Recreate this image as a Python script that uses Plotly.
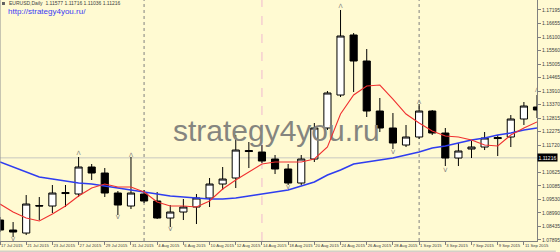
import plotly.graph_objects as go

# ---------------- data ----------------
dates = ["17 Jul 2015", "20 Jul 2015", "21 Jul 2015", "22 Jul 2015", "23 Jul 2015", "24 Jul 2015",
         "27 Jul 2015", "28 Jul 2015", "29 Jul 2015", "30 Jul 2015", "31 Jul 2015",
         "3 Aug 2015", "4 Aug 2015", "5 Aug 2015", "6 Aug 2015", "7 Aug 2015",
         "10 Aug 2015", "11 Aug 2015", "12 Aug 2015", "13 Aug 2015", "14 Aug 2015",
         "17 Aug 2015", "18 Aug 2015", "19 Aug 2015", "20 Aug 2015", "21 Aug 2015",
         "24 Aug 2015", "25 Aug 2015", "26 Aug 2015", "27 Aug 2015", "28 Aug 2015", "31 Aug 2015",
         "1 Sep 2015", "2 Sep 2015", "3 Sep 2015", "4 Sep 2015",
         "7 Sep 2015", "8 Sep 2015", "9 Sep 2015", "10 Sep 2015", "11 Sep 2015", "14 Sep 2015"]

opens = [1.08702, 1.08298, 1.08176, 1.09289, 1.09268, 1.09814, 1.09754, 1.10846, 1.10603, 1.09794,
         1.09268, 1.09754, 1.09471, 1.08783, 1.09026, 1.09228, 1.09592, 1.10158, 1.10401, 1.11513,
         1.11452, 1.11169, 1.10765, 1.10198, 1.11169, 1.12423, 1.13757, 1.16184, 1.15132, 1.13110,
         1.12423, 1.11735, 1.12059, 1.13110, 1.12220, 1.11209, 1.11573, 1.11654, 1.12038, 1.12059,
         1.12787, 1.13272]
highs = [1.08824, 1.08621, 1.09713, 1.09632, 1.10118, 1.10118, 1.11250, 1.10967, 1.10805, 1.09875,
         1.11250, 1.09915, 1.09835, 1.09309, 1.09551, 1.09754, 1.10401, 1.10846, 1.12140, 1.11857,
         1.11735, 1.11331, 1.10967, 1.11331, 1.12625, 1.13919, 1.17195, 1.16264, 1.15617, 1.13636,
         1.13029, 1.12544, 1.13393, 1.13151, 1.12423, 1.11816, 1.11897, 1.12261, 1.12140, 1.12948,
         1.13474, 1.13757]
lows = [1.08217, 1.08015, 1.08096, 1.08702, 1.08985, 1.09228, 1.09632, 1.10320, 1.09632, 1.08904,
        1.09147, 1.09390, 1.08743, 1.08419, 1.08702, 1.08540, 1.09228, 1.09915, 1.09996, 1.10805,
        1.11007, 1.10562, 1.10118, 1.10118, 1.11048, 1.12342, 1.13676, 1.13879, 1.12868, 1.12261,
        1.11573, 1.11654, 1.11977, 1.12140, 1.10886, 1.10886, 1.11209, 1.11533, 1.11290, 1.11654,
        1.12544, 1.12827]
closes = [1.08298, 1.08217, 1.09349, 1.09268, 1.09794, 1.09774, 1.10846, 1.10603, 1.09794, 1.09309,
          1.09794, 1.09471, 1.08783, 1.09026, 1.09228, 1.09592, 1.10158, 1.10360, 1.11533, 1.11472,
          1.11088, 1.10765, 1.10198, 1.11169, 1.12423, 1.13838, 1.16143, 1.15132, 1.13110, 1.12423,
          1.11816, 1.12059, 1.13110, 1.12220, 1.11209, 1.11493, 1.11654, 1.12018, 1.11998, 1.12787,
          1.13312, 1.13151]

ma_fast = [1.09349, 1.09026, 1.08783, 1.08662, 1.08945, 1.09268, 1.09673, 1.09996, 1.10158, 1.10037,
           1.10037, 1.09835, 1.09430, 1.09268, 1.09268, 1.09228, 1.09471, 1.09956, 1.10320, 1.10643,
           1.10967, 1.11048, 1.11048, 1.11048, 1.11169, 1.11654, 1.12989, 1.13757, 1.14121, 1.14162,
           1.13595, 1.12989, 1.12625, 1.12301, 1.12099, 1.12059, 1.11937, 1.11735, 1.11695, 1.12140,
           1.12423, 1.12665]
ma_slow = [1.11048, 1.10846, 1.10643, 1.10441, 1.10360, 1.10279, 1.10198, 1.10158, 1.10077, 1.09996,
           1.09915, 1.09835, 1.09754, 1.09673, 1.09632, 1.09592, 1.09551, 1.09551, 1.09592, 1.09673,
           1.09754, 1.09835, 1.09915, 1.10077, 1.10239, 1.10522, 1.10724, 1.10967, 1.11048, 1.11129,
           1.11209, 1.11331, 1.11452, 1.11614, 1.11695, 1.11816, 1.11937, 1.12018, 1.12140, 1.12220,
           1.12342, 1.12423]

fractal_up_bars = [6, 10, 26, 32, 41]
fractal_up_vals = [1.11412, 1.11331, 1.17356, 1.13474, 1.13959]
fractal_dn_bars = [1, 9, 13, 22, 30, 34]
fractal_dn_vals = [1.07934, 1.08824, 1.08338, 1.10037, 1.11452, 1.10724]

price_ticks = [1.17195, 1.16655, 1.16100, 1.15560, 1.15005, 1.14465, 1.13910, 1.13370, 1.12815,
               1.12275, 1.11720, 1.10625, 1.10085, 1.09530, 1.08990, 1.08435, 1.07895]
price_tick_text = ["1.17195", "1.16655", "1.16100", "1.15560", "1.15005", "1.14465", "1.13910",
                   "1.13370", "1.12815", "1.12275", "1.11720", "1.10625", "1.10085", "1.09530",
                   "1.08990", "1.08435", "1.07895"]
bid_price = 1.11216
bid_text = "1.11216"
header_text = "EURUSD,Daily  1.11577 1.11716 1.11036 1.11216"
site_text = "http://strategy4you.ru/"
watermark = "strategy4you.ru"
separator_bars = [11, 32]      # first bars of August and September
marker_bar = 20                # pink dashed line (14 Aug)

# ---------------- figure ----------------
bars = list(range(len(dates)))
W, H = 560, 252
ML, MR, MT, MB = 0, 19, 0, 11
PW, PH = W - ML - MR, H - MT - MB
BG = "#fffad2"
FONT = "Liberation Sans"

fig = go.Figure()

# watermark (behind the candles)
fig.add_trace(go.Scatter(x=[21.1], y=[1.1221], mode="text", text=[watermark],
                         textfont=dict(family=FONT, size=30, color="#85857f"),
                         hoverinfo="skip", showlegend=False))

fig.add_trace(go.Candlestick(
    x=bars, open=opens, high=highs, low=lows, close=closes,
    increasing=dict(line=dict(color="#000000", width=1), fillcolor="#ffffff"),
    decreasing=dict(line=dict(color="#000000", width=1), fillcolor="#000000"),
    whiskerwidth=0, showlegend=False, hoverinfo="skip"))

fig.add_trace(go.Scatter(x=bars, y=ma_slow, mode="lines",
                         line=dict(color="#2f3df0", width=1.6), showlegend=False, hoverinfo="skip"))
fig.add_trace(go.Scatter(x=bars, y=ma_fast, mode="lines",
                         line=dict(color="#f03030", width=1.1), showlegend=False, hoverinfo="skip"))

fig.add_trace(go.Scatter(x=fractal_up_bars, y=fractal_up_vals, mode="text", text=["Λ"] * len(fractal_up_bars),
                         textfont=dict(family="DejaVu Sans", size=6, color="#808080"),
                         showlegend=False, hoverinfo="skip"))
fig.add_trace(go.Scatter(x=fractal_dn_bars, y=fractal_dn_vals, mode="text", text=["V"] * len(fractal_dn_bars),
                         textfont=dict(family="DejaVu Sans", size=6, color="#808080"),
                         showlegend=False, hoverinfo="skip"))

shapes = []
for b in separator_bars:
    shapes.append(dict(type="line", xref="x", yref="paper", x0=b, x1=b, y0=0, y1=1,
                       line=dict(color="#808080", width=1, dash="dot"), layer="below"))
shapes.append(dict(type="line", xref="x", yref="paper", x0=marker_bar, x1=marker_bar, y0=0, y1=1,
                   line=dict(color="#f0b8d0", width=1, dash="dash"), layer="below"))
shapes.append(dict(type="line", xref="paper", yref="y", x0=0, x1=1, y0=bid_price, y1=bid_price,
                   line=dict(color="#c8c8c0", width=1), layer="below"))
# left border and header square
shapes.append(dict(type="line", xref="paper", yref="paper", x0=0, x1=0, y0=0, y1=1,
                   line=dict(color="#909090", width=1)))
shapes.append(dict(type="rect", xref="paper", yref="paper", x0=2 / PW, x1=5 / PW,
                   y0=1 - 5 / PH, y1=1 - 2 / PH, fillcolor="#606060", line=dict(width=0)))
# bottom scrollbar strip
shapes.append(dict(type="rect", xref="paper", yref="paper", x0=0, x1=W / PW,
                   y0=-11 / PH, y1=-9.5 / PH, fillcolor="#d4d0c8", line=dict(width=0)))

annotations = [
    dict(xref="paper", yref="paper", x=7 / PW, y=1 - 3.5 / PH, xanchor="left", yanchor="middle",
         text=header_text, showarrow=False, font=dict(family=FONT, size=5, color="#404040")),
    dict(xref="paper", yref="paper", x=6 / PW, y=1 - 11.5 / PH, xanchor="left", yanchor="middle",
         text=site_text, showarrow=False, font=dict(family=FONT, size=8, color="#3a3af5")),
    dict(xref="paper", yref="y", x=1.0, y=bid_price, xanchor="left", yanchor="middle",
         text=bid_text, showarrow=False, font=dict(family=FONT, size=5, color="#ffffff"),
         bgcolor="#000000", borderpad=0.5),
]

fig.update_layout(
    width=W, height=H, margin=dict(l=ML, r=MR, t=MT, b=MB, pad=0),
    paper_bgcolor=BG, plot_bgcolor=BG, boxgap=0.22, showlegend=False,
    shapes=shapes, annotations=annotations,
    xaxis=dict(range=[0, 41.0], rangeslider=dict(visible=False), showgrid=False, zeroline=False,
               tickmode="array", tickvals=bars[::2], ticktext=dates[::2], tickangle=0,
               ticks="outside", ticklen=3, tickcolor="#808080", ticklabelposition="outside right",
               tickfont=dict(family=FONT, size=4.2, color="#404040"),
               showline=True, linecolor="#808080", linewidth=1),
    yaxis=dict(range=[1.07854, 1.17599], side="right", showgrid=False, zeroline=False,
               tickmode="array", tickvals=price_ticks, ticktext=price_tick_text,
               ticks="outside", ticklen=3, tickcolor="#808080",
               tickfont=dict(family=FONT, size=5, color="#404040"),
               showline=True, linecolor="#808080", linewidth=1),
)

fig.write_html("out.html")
